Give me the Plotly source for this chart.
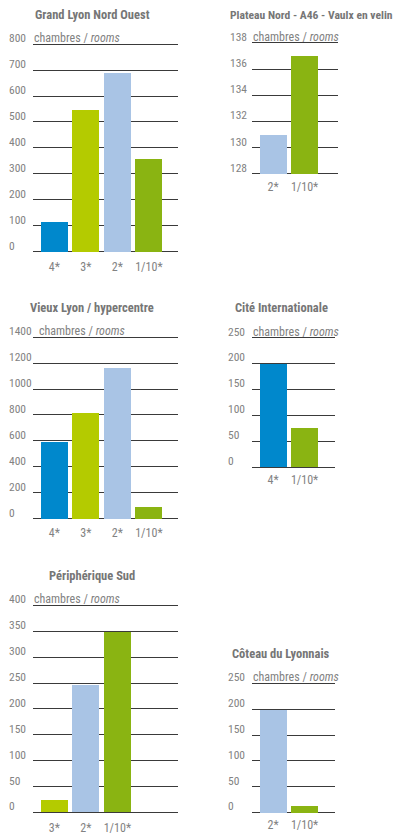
import plotly.graph_objects as go

W, H = 395, 835
FONT = "Liberation Sans Narrow, Arial Narrow, Roboto Condensed, DejaVu Sans Condensed, sans-serif"
TXT = "#828282"
TITLE_C = "#767676"
GRID = "#3a3a3a"

# ---------------- data ----------------
titles = ["Grand Lyon Nord Ouest", "Plateau Nord - A46 - Vaulx en velin",
          "Vieux Lyon / hypercentre", "Cité Internationale",
          "Périphérique Sud", "Côteau du Lyonnais"]

cats_gl = ["4*", "3*", "2*", "1/10*"]
vals_gl = [113, 547, 688, 357]
ticks_gl = [0, 100, 200, 300, 400, 500, 600, 700, 800]

cats_pn = ["2*", "1/10*"]
vals_pn = [131, 137]
ticks_pn = [128, 130, 132, 134, 136, 138]

cats_vl = ["4*", "3*", "2*", "1/10*"]
vals_vl = [597, 815, 1166, 92]
ticks_vl = [0, 200, 400, 600, 800, 1000, 1200, 1400]

cats_ci = ["4*", "1/10*"]
vals_ci = [199, 76]
ticks_ci = [0, 50, 100, 150, 200, 250]

cats_ps = ["3*", "2*", "1/10*"]
vals_ps = [24, 245, 349]
ticks_ps = [0, 50, 100, 150, 200, 250, 300, 350, 400]

cats_cl = ["2*", "1/10*"]
vals_cl = [199, 14]
ticks_cl = [0, 50, 100, 150, 200, 250]

axis_label = "chambres / <i>rooms</i>"

colors = {"4*": "#0088CC", "3*": "#B4CB00", "2*": "#A9C4E5", "1/10*": "#8AB412"}

# ---------------- layout (pixel geometry) ----------------
panels = [
    dict(cats=cats_gl, vals=vals_gl, ticks=ticks_gl, x0=33, x1=178, ytop=44.7, ybot=254.7,
         labx=7.3, ulx=0, tx=92, tanchor="center", ty=15, tsize=12.5),
    dict(cats=cats_pn, vals=vals_pn, ticks=ticks_pn, x0=251.7, x1=338.3, ytop=43.3, ybot=176,
         labx=228.3, ulx=0, tx=228, tanchor="left", ty=15, tsize=11.6),
    dict(cats=cats_vl, vals=vals_vl, ticks=ticks_vl, x0=33, x1=178, ytop=341.3, ybot=525,
         labx=7.0, ulx=4.5, tx=92, tanchor="center", ty=311.7, tsize=12.5),
    dict(cats=cats_ci, vals=vals_ci, ticks=ticks_ci, x0=251.7, x1=335, ytop=341.7, ybot=472.7,
         labx=226, ulx=0, tx=281, tanchor="center", ty=311.7, tsize=12.5),
    dict(cats=cats_ps, vals=vals_ps, ticks=ticks_ps, x0=33, x1=178, ytop=612.7, ybot=822.3,
         labx=7.3, ulx=0, tx=92, tanchor="center", ty=582.7, tsize=12.5),
    dict(cats=cats_cl, vals=vals_cl, ticks=ticks_cl, x0=251.7, x1=335, ytop=691.7, ybot=822.3,
         labx=226, ulx=0, tx=281, tanchor="center", ty=661.7, tsize=12.5),
]

SLOT = 31.5     # px between bar centres
OFF = 21.4      # px from plot left edge to first bar centre
BARW = 27 / SLOT

fig = go.Figure()
annotations = []

for i, (p, title) in enumerate(zip(panels, titles)):
    n = i + 1
    xa = "x" if n == 1 else f"x{n}"
    ya = "y" if n == 1 else f"y{n}"
    xkey = "xaxis" if n == 1 else f"xaxis{n}"
    ykey = "yaxis" if n == 1 else f"yaxis{n}"

    vmin, vmax = p["ticks"][0], p["ticks"][-1]
    span = vmax - vmin
    pad = 0.03 * span
    pxper = (p["ybot"] - p["ytop"]) / span
    dom_bot = p["ybot"] + pad * pxper
    dom_top = p["ytop"] - pad * pxper

    xs = list(range(len(p["cats"])))
    fig.add_trace(go.Bar(
        x=xs, y=[v - vmin for v in p["vals"]], base=vmin,
        width=BARW, marker=dict(color=[colors[c] for c in p["cats"]], line=dict(width=0)),
        xaxis=xa, yaxis=ya, showlegend=False,
        customdata=p["vals"], hovertemplate="%{customdata}<extra></extra>",
    ))

    width_px = p["x1"] - p["x0"]
    fig.update_layout(**{
        xkey: dict(domain=[p["x0"] / W, p["x1"] / W], anchor=ya,
                   range=[-OFF / SLOT, (width_px - OFF) / SLOT],
                   tickmode="array", tickvals=xs, ticktext=p["cats"],
                   showgrid=False, zeroline=False, showline=False, ticks="",
                   tickfont=dict(family=FONT, size=12, color=TXT), fixedrange=True),
        ykey: dict(domain=[1 - dom_bot / H, 1 - dom_top / H], anchor=xa,
                   range=[vmin - pad, vmax + pad], tickmode="array", tickvals=p["ticks"],
                   showticklabels=False, showgrid=True, gridcolor=GRID, gridwidth=1,
                   zeroline=False, showline=False, ticks="", fixedrange=True),
    })

    # tick labels (left-aligned, sitting just above each grid line)
    for t in p["ticks"]:
        annotations.append(dict(
            x=p["labx"] / W, xref="paper", xanchor="left",
            y=t, yref=ya, yanchor="middle", yshift=6,
            text=str(t), showarrow=False,
            font=dict(family=FONT, size=11.5, color=TXT)))
    # unit label sitting on top grid line
    annotations.append(dict(
        x=0, xref=f"{xa} domain", xanchor="left", xshift=p["ulx"] - 1,
        y=vmax, yref=ya, yanchor="middle", yshift=6,
        text=axis_label, showarrow=False,
        font=dict(family=FONT, size=12, color=TXT)))
    # panel title
    annotations.append(dict(
        x=p["tx"] / W, xref="paper", xanchor=p["tanchor"],
        y=1 - p["ty"] / H, yref="paper", yanchor="middle",
        text=f"<b>{title}</b>", showarrow=False,
        font=dict(family=FONT, size=p["tsize"], color=TITLE_C)))

fig.update_layout(
    width=W, height=H, margin=dict(l=0, r=0, t=0, b=0),
    paper_bgcolor="white", plot_bgcolor="white",
    showlegend=False, bargap=0, annotations=annotations,
)

fig.write_html("out.html", config={"displayModeBar": False})
